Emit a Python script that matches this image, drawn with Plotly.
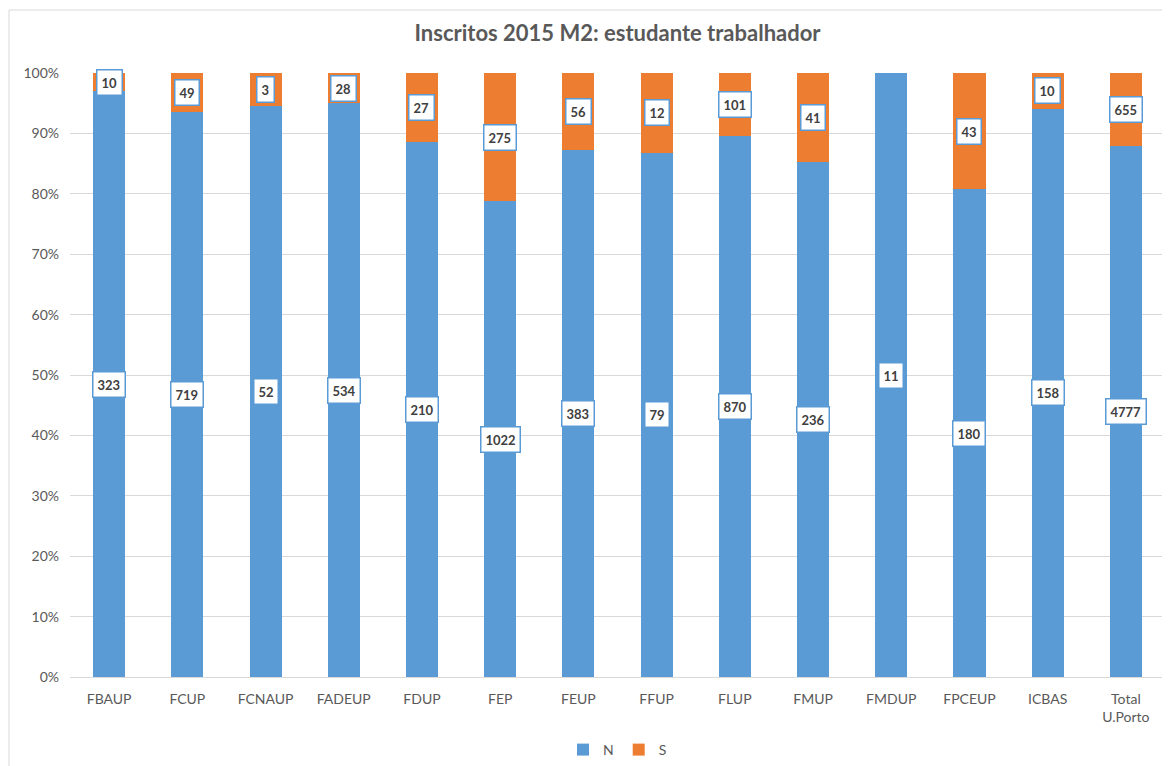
import plotly.graph_objects as go

categories = ["FBAUP", "FCUP", "FCNAUP", "FADEUP", "FDUP", "FEP", "FEUP", "FFUP",
              "FLUP", "FMUP", "FMDUP", "FPCEUP", "ICBAS", "Total<br>U.Porto"]
n_values = [323, 719, 52, 534, 210, 1022, 383, 79, 870, 236, 11, 180, 158, 4777]
s_values = [10, 49, 3, 28, 27, 275, 56, 12, 101, 41, 0, 43, 10, 655]
y_ticks = [0, 10, 20, 30, 40, 50, 60, 70, 80, 90, 100]
y_tick_labels = [f"{t}%" for t in y_ticks]

blue = "#5B9BD5"
orange = "#ED7D31"
font_family = "Lato, 'Open Sans', sans-serif"

fig = go.Figure()
fig.add_trace(go.Bar(x=categories, y=n_values, name="N", marker_color=blue,
                     marker_line_width=0))
fig.add_trace(go.Bar(x=categories, y=s_values, name="S", marker_color=orange,
                     marker_line_width=0))

annotations = []
for c, n, s in zip(categories, n_values, s_values):
    tot = n + s
    pn = n / tot * 100
    ps = s / tot * 100
    annotations.append(dict(x=c, y=pn / 2, text=f"<b>{n}</b>", showarrow=False,
                            bgcolor="white", bordercolor=blue, borderwidth=1.5,
                            borderpad=4, font=dict(size=13, color="#404040", family=font_family)))
    if s > 0:
        annotations.append(dict(x=c, y=pn + ps / 2, text=f"<b>{s}</b>", showarrow=False,
                                bgcolor="white", bordercolor=blue, borderwidth=1.5,
                                borderpad=4, font=dict(size=13, color="#404040", family=font_family)))

# page body has an 8px margin, so figure coordinates are offset by 8px
OFF = 8
W, H = 1170 - OFF, 766 - OFF
L, T = 70 - OFF, 73 - OFF
R = W - (1165 - OFF)
B = H - (677 - OFF)
pw = W - L - R
ph = H - T - B

fig.update_layout(
    width=W, height=H,
    barmode="stack", barnorm="percent", bargap=0.59,
    plot_bgcolor="white", paper_bgcolor="white",
    margin=dict(l=L, r=R, t=T, b=B, autoexpand=False),
    title=dict(text="<b>Inscritos 2015 M2: estudante trabalhador</b>", x=0.5, xanchor="center",
               xref="paper", y=1 - (33 - OFF) / H, yanchor="middle",
               font=dict(size=22, color="#595959", family=font_family)),
    font=dict(family=font_family, color="#595959", size=13),
    xaxis=dict(showline=True, linecolor="#D9D9D9", linewidth=1, ticks="", automargin=False,
               ticklabelstandoff=9,
               tickfont=dict(size=14, color="#595959")),
    yaxis=dict(range=[0, 100], tickvals=y_ticks, ticktext=y_tick_labels, automargin=False,
               ticklabelstandoff=10,
               showgrid=True, gridcolor="#D9D9D9", gridwidth=1, zeroline=False,
               tickfont=dict(size=14, color="#595959")),
    legend=dict(orientation="h", x=0.5, xanchor="center", xref="paper",
                yref="container", y=1 - (750 - OFF) / H, yanchor="middle",
                traceorder="normal", font=dict(size=14, color="#595959"),
                itemwidth=30),
    annotations=annotations,
    shapes=[dict(type="rect", xref="paper", yref="paper",
                 x0=(1 - L) / pw, x1=(W + 5 - L) / pw,
                 y0=-(H + 5 - T - ph) / ph, y1=1 + (T - 2) / ph,
                 line=dict(color="#D9D9D9", width=1), fillcolor="rgba(0,0,0,0)", layer="below")],
)

fig.write_html("out.html")
